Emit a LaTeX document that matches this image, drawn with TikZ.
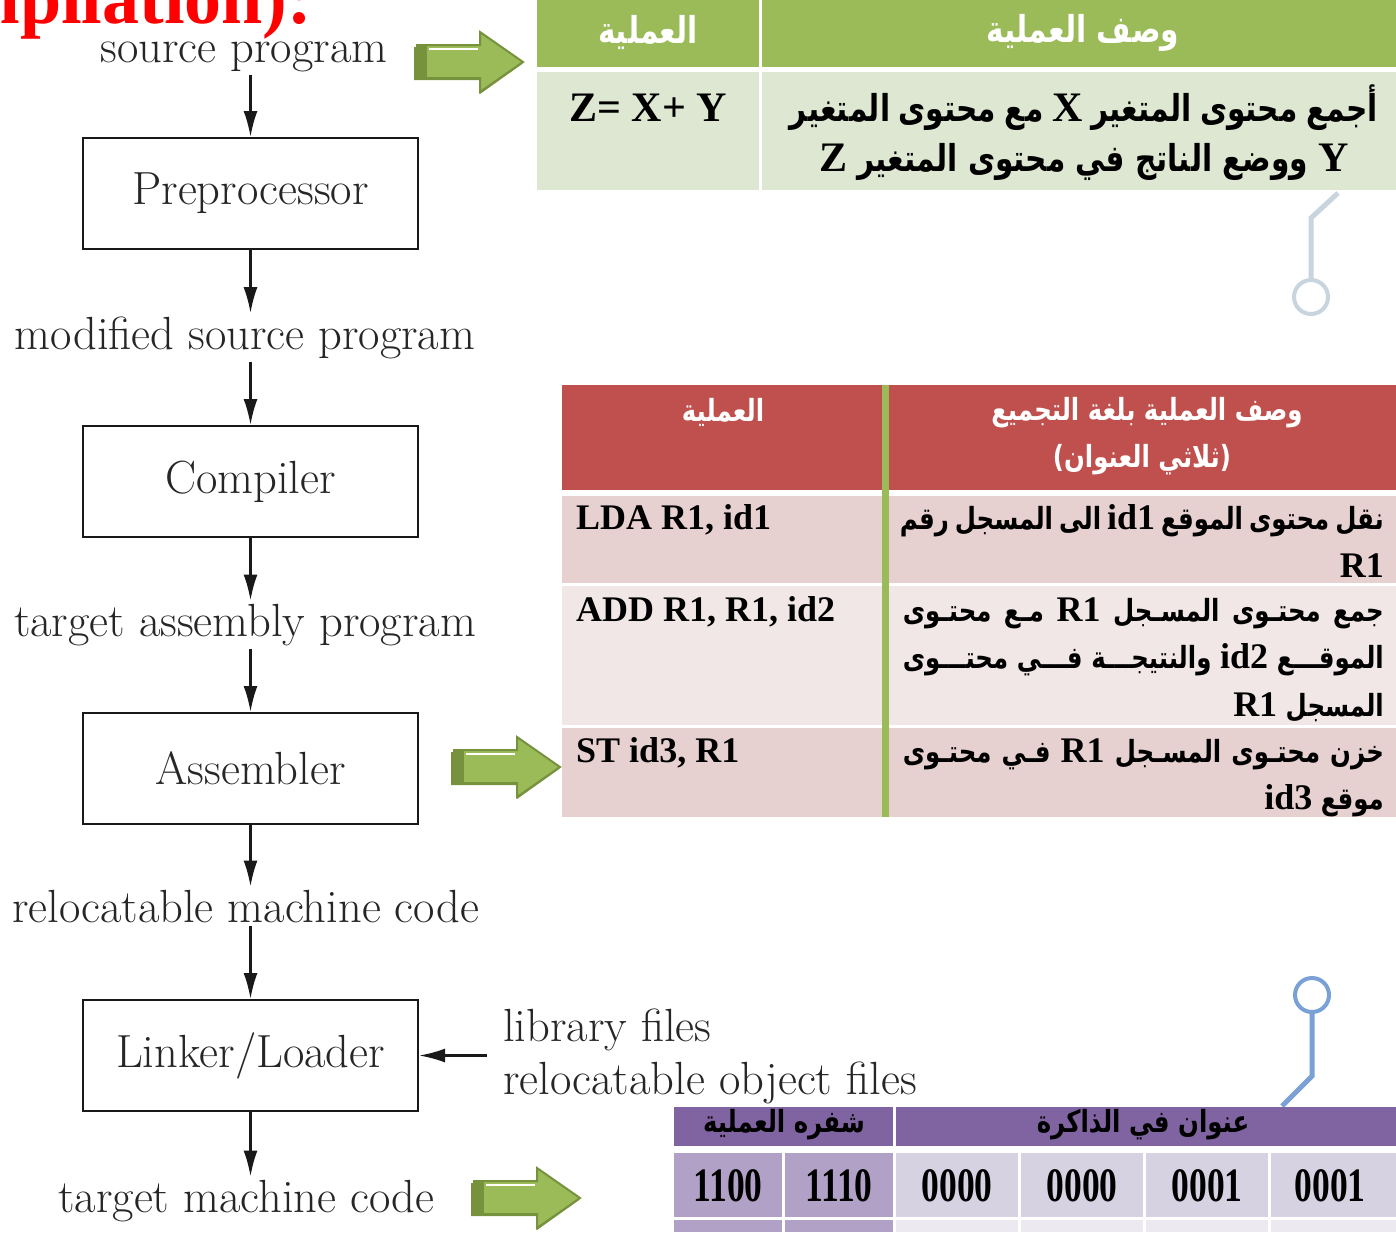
\documentclass[tikz,border=0pt]{standalone}
\usepackage{fontspec}
\usetikzlibrary{arrows.meta}
\TeXXeTstate=1
\newfontfamily\tnr{Liberation Serif}
\newfontfamily\tnrnarrow[FakeStretch=0.74]{Liberation Serif}
\newfontfamily\arabicfont[Script=Arabic,FakeStretch=0.8]{DejaVu Sans}
\newcommand\arfont{\arabicfont\bfseries}
% Latin runs inside right-to-left lines (two sizes)
\newcommand\latw[1]{\beginL{\tnr\bfseries\fontsize{36}{40}\selectfont #1}\endL}
\newcommand\latx[1]{\beginL{\tnr\bfseries\fontsize{42}{46}\selectfont #1}\endL}
\definecolor{hdrgreen}{HTML}{9BBB59}
\definecolor{bodygreen}{HTML}{DEE7D1}
\definecolor{arrowdark}{HTML}{76923C}
\definecolor{hdrred}{HTML}{C0504D}
\definecolor{rowpinkA}{HTML}{E7D0D0}
\definecolor{rowpinkB}{HTML}{F2E7E7}
\definecolor{hdrpurple}{HTML}{8064A2}
\definecolor{cellpurple}{HTML}{B2A1C7}
\definecolor{cellmauve}{HTML}{D7D2E2}
\definecolor{cellpale}{HTML}{ECEAF0}
\definecolor{pingray}{HTML}{C8D4DE}
\definecolor{pinblue}{HTML}{79A1D6}
\newcommand\arbig{\fontsize{37}{42}\selectfont\arfont}
\newcommand\arsmall{\fontsize{30.5}{36}\selectfont\arfont}
% green block arrow, tip at #1
\newcommand\garrow[1]{%
  \begin{scope}[shift={#1}]
    \fill[arrowdark] (-109,-15) -- (-43,-15) -- (-43,-28) -- (-1,2) -- (-43,32) -- (-43,18) -- (-109,18) -- cycle;
    \filldraw[fill=hdrgreen, draw=arrowdark, line width=2pt]
      (-106,-17) -- (-43,-17) -- (-43,-30) -- (0,0) -- (-43,30) -- (-43,16) -- (-106,16) -- cycle;
    \fill[arrowdark] (-107,-18) rectangle (-96,17);
    \draw[white, line width=2pt] (-94,-13) -- (-45,-13);
  \end{scope}}
\begin{document}
\begin{tikzpicture}[x=1pt,y=-1pt,
  lbl/.style={font=\fontsize{46.5}{53}\selectfont, text=black!85, inner sep=3pt},
  stage/.style={draw=black!90, line width=2pt, minimum width=335pt, minimum height=111pt,
    font=\fontsize{46.5}{53}\selectfont, text=black!85},
  flow/.style={line width=2.4pt, draw=black!90, -{Latex[length=26pt,width=14pt]}},
  hdr/.style={text=white, inner sep=0pt},
  cellar/.style={text=black, inner sep=0pt},
  latcell/.style={font=\fontsize{36}{40}\selectfont\tnr\bfseries, text=black, inner sep=0pt},
  num/.style={font=\fontsize{48}{50}\selectfont\tnrnarrow\bfseries, text=black, inner sep=0pt},
  pinline/.style={line width=5pt},
  pinring/.style={circle, line width=4pt, minimum size=34pt, inner sep=0pt}]
\useasboundingbox (0,0) rectangle (1396,1232);
\clip (0,0) rectangle (1396,1232);
\fill[white] (0,0) rectangle (1396,1232);

% heading fragment
\node[font=\fontsize{74}{80}\selectfont\tnr\bfseries, text=red, anchor=base west, inner sep=0pt]
  (title) at (-132,23) {Compilation):};

% compilation pipeline
\node[lbl, anchor=base] (src) at (244,62) {source program};
\node[stage] (pre) at (250.5,193.5) {Preprocessor};
\node[lbl, anchor=base] (mod) at (245,349) {modified source program};
\node[stage] (comp) at (250.5,481.5) {Compiler};
\node[lbl, anchor=base] (tap) at (245,636) {target assembly program};
\node[stage] (asm) at (250.5,768.5) {Assembler};
\node[lbl, anchor=base] (rmc) at (245.5,922) {relocatable machine code};
\node[stage] (link) at (250.5,1055.5) {Linker/Loader};
\node[lbl, anchor=base] (tmc) at (246.5,1212) {target machine code};
\node[lbl, anchor=west, align=left] (lib) at (500,1056) {library files\\relocatable object files};

\draw[flow] (src.south -| pre.north) -- (pre.north);
\draw[flow] (pre.south) -- (pre.south |- mod.north);
\draw[flow] (mod.south -| comp.north) -- (comp.north);
\draw[flow] (comp.south) -- (comp.south |- tap.north);
\draw[flow] (tap.south -| asm.north) -- (asm.north);
\draw[flow] (asm.south) -- (asm.south |- rmc.north);
\draw[flow] (rmc.south -| link.north) -- (link.north);
\draw[flow] (link.south) -- (link.south |- tmc.north);
\draw[flow] ([xshift=-13pt]lib.west |- link.east) -- (link.east);

% green block arrows
\garrow{(523,62)}
\garrow{(560,767)}
\garrow{(580,1198)}

% high-level operation table
\fill[hdrgreen] (537,0) rectangle (759,67);
\fill[hdrgreen] (762,0) rectangle (1396,67);
\fill[bodygreen] (537,72) rectangle (759,190);
\fill[bodygreen] (762,72) rectangle (1396,190);
\node[hdr, font=\arbig] (g1) at (648,33) {\beginR العملية\endR};
\node[hdr, font=\arbig] (g2) at (1083,33) {\beginR وصف العملية\endR};
\node[font=\fontsize{42}{46}\selectfont\tnr\bfseries, inner sep=0pt, anchor=base] (zxy) at (648,121) {Z= X+ Y};
\node[cellar, font=\arbig, anchor=base east] (g3) at (1378,121)
  {\hbox to 588pt{\beginR أجمع محتوى المتغير \latx{X} مع محتوى المتغير\endR}};
\node[cellar, font=\arbig, anchor=base] (g4) at (1084,171)
  {\beginR \latx{Y} ووضع الناتج في محتوى المتغير \latx{Z}\endR};

% pin marker above
\node[pinring, draw=pingray] (pin1) at (1311,297) {};
\coordinate (pin1a) at (1338,193);
\draw[pinline, pingray] (pin1a) -- ++(-27,25) -- (pin1.north);

% assembly table
\fill[hdrred] (562,385) rectangle (1396,490);
\fill[rowpinkA] (562,496) rectangle (1396,583);
\fill[rowpinkB] (562,586) rectangle (1396,725);
\fill[rowpinkA] (562,728) rectangle (1396,817);
\fill[hdrgreen] (882,385) rectangle (889,817);
\node[hdr, font=\arsmall] (r1) at (723,412) {\beginR العملية\endR};
\node[hdr, font=\arsmall] (r2) at (1147,413) {\beginR وصف العملية بلغة التجميع\endR};
\node[hdr, font=\arsmall] (r3) at (1142,460) {\beginR (ثلاثي العنوان)\endR};

\node[latcell, anchor=base west] (lda) at (576,529) {LDA R1, id1};
\node[cellar, font=\arsmall, anchor=base east] (d1a) at (1384,529)
  {\hbox to 484pt{\beginR نقل محتوى الموقع \latw{id1} الى المسجل رقم\endR}};
\node[latcell, anchor=base east] (d1b) at (1384,577) {R1};

\node[latcell, anchor=base west] (add) at (576,621) {ADD R1, R1, id2};
\node[cellar, font=\arsmall, anchor=base east] (d2a) at (1384,621)
  {\hbox to 481pt{\beginR جمع محتـوى المسـجل \latw{R1} مـع محتـوى\endR}};
\node[cellar, font=\arsmall, anchor=base east] (d2b) at (1384,668)
  {\hbox to 481pt{\beginR الموقـــع \latw{id2} والنتيجـــة فـــي محتـــوى\endR}};
\node[cellar, font=\arsmall, anchor=base east] (d2c) at (1384,716) {\beginR المسجل \latw{R1}\endR};

\node[latcell, anchor=base west] (st) at (576,762) {ST id3, R1};
\node[cellar, font=\arsmall, anchor=base east] (d3a) at (1384,762)
  {\hbox to 481pt{\beginR خزن محتـوى المسـجل \latw{R1} فـي محتـوى\endR}};
\node[cellar, font=\arsmall, anchor=base east] (d3b) at (1384,809) {\beginR موقع \latw{id3}\endR};

% pin marker below
\node[pinring, draw=pinblue] (pin2) at (1312,995) {};
\coordinate (pin2a) at (1282,1106);
\draw[pinline, pinblue] (pin2.south) -- ++(0,62) -- (pin2a);

% machine code table
\fill[hdrpurple] (674,1107) rectangle (893,1146);
\fill[hdrpurple] (896,1107) rectangle (1396,1146);
\node[cellar, font=\arsmall] (p1) at (784,1125) {\beginR شفره العملية\endR};
\node[cellar, font=\arsmall] (p2) at (1143,1125) {\beginR عنوان في الذاكرة\endR};
\fill[cellpurple] (674,1153) rectangle (782,1217);
\fill[cellpurple] (785,1153) rectangle (893,1217);
\fill[cellmauve] (896,1153) rectangle (1018,1217);
\fill[cellmauve] (1021,1153) rectangle (1143,1217);
\fill[cellmauve] (1146,1153) rectangle (1268,1217);
\fill[cellmauve] (1271,1153) rectangle (1396,1217);
\fill[cellpurple] (674,1220) rectangle (782,1232);
\fill[cellpurple] (785,1220) rectangle (893,1232);
\fill[cellpale] (896,1220) rectangle (1018,1232);
\fill[cellpale] (1021,1220) rectangle (1143,1232);
\fill[cellpale] (1146,1220) rectangle (1268,1232);
\fill[cellpale] (1271,1220) rectangle (1396,1232);
\node[num] (b1) at (728,1186) {1100};
\node[num] (b2) at (839,1186) {1110};
\node[num] (b3) at (957,1186) {0000};
\node[num] (b4) at (1082,1186) {0000};
\node[num] (b5) at (1207,1186) {0001};
\node[num] (b6) at (1330,1186) {0001};
\end{tikzpicture}
\end{document}
